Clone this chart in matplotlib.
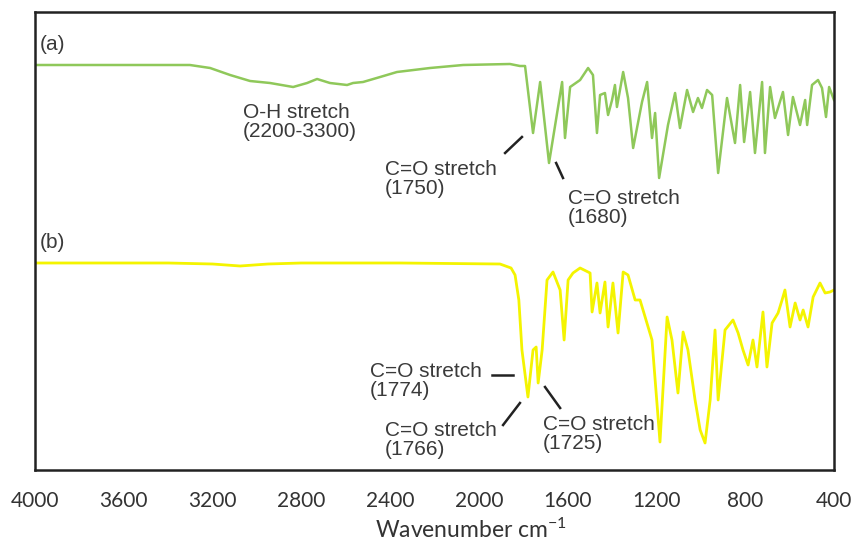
import numpy as np
import matplotlib.pyplot as plt

# spectrum (a) - wavenumber (cm-1) and signal (offset units)
wn_a = [4000, 3707, 3482, 3302, 3211, 3121, 3031, 2941, 2837, 2774, 2729, 2671,
        2594, 2567, 2522, 2445, 2369, 2220, 2071, 1860, 1815,
        1792, 1756, 1724, 1684, 1625, 1612, 1589, 1544, 1508, 1486, 1468, 1454,
        1432, 1418, 1400, 1387, 1378, 1350, 1328, 1305, 1265, 1242, 1220, 1206,
        1188, 1148, 1116, 1094, 1062, 1035, 1013, 995, 972, 949, 922, 882, 846,
        823, 805, 778, 756, 724, 711, 688, 666, 630, 607, 585, 553, 530, 521,
        499, 472, 454, 436, 422, 400]
sig_a = [405, 405, 405, 405, 402, 395, 389, 387, 383, 387, 391, 387,
         385, 387, 388, 393, 398, 402, 405, 406, 404,
         404, 337, 388, 307, 388, 332, 383, 390, 402, 395, 337, 375,
         377, 355, 370, 385, 363, 398, 372, 322, 368, 388, 332, 357,
         292, 345, 377, 342, 380, 358, 372, 362, 380, 375, 297, 372, 327,
         385, 328, 378, 317, 388, 317, 383, 352, 378, 335, 373, 345, 370, 345,
         385, 390, 382, 353, 383, 370]

# spectrum (b)
wn_b = [4000, 3400, 3200, 3076, 2950, 2800, 2355, 1905, 1855, 1837, 1820, 1806,
        1779, 1756, 1742, 1733, 1715, 1693, 1666, 1634, 1616, 1598, 1576, 1544,
        1499, 1490, 1468, 1454, 1432, 1418, 1396, 1373, 1350, 1328, 1296, 1274,
        1251, 1220, 1184, 1152, 1130, 1103, 1080, 1058, 1026, 1003, 981, 958,
        936, 922, 891, 855, 832, 810, 787, 765, 747, 720, 702, 679, 652, 634,
        621, 598, 575, 553, 539, 517, 494, 463, 440, 418, 400]
sig_b = [207, 207, 206, 204, 206, 207, 207, 206, 202, 195, 170, 120,
         73, 120, 123, 87, 120, 190, 198, 180, 130, 190, 197, 202,
         197, 158, 187, 157, 188, 143, 187, 137, 198, 195, 170, 170,
         153, 130, 28, 153, 130, 77, 138, 120, 70, 40, 27, 70,
         140, 70, 140, 150, 137, 120, 105, 130, 103, 158, 103, 147, 157, 170,
         180, 143, 167, 150, 160, 143, 173, 187, 177, 178, 180]

xticks = [4000, 3600, 3200, 2800, 2400, 2000, 1600, 1200, 800, 400]

plt.rcParams['font.family'] = ['Liberation Sans', 'DejaVu Sans']
plt.rcParams['mathtext.fontset'] = 'custom'
plt.rcParams['mathtext.rm'] = 'Lato'

fig = plt.figure(figsize=(8.54, 5.44), dpi=100)
ax = fig.add_axes([35 / 854, 1 - 470 / 544, 799 / 854, 458 / 544])

ax.plot(wn_a, sig_a, color='#8fc85a', lw=1.8, solid_joinstyle='round')
ax.plot(wn_b, sig_b, color='#f4f400', lw=2.0, solid_joinstyle='round')

ax.set_xlim(4000, 400)
ax.set_ylim(0, 458)
ax.set_yticks([])
ax.set_xticks(xticks)
ax.set_xticklabels([str(t) for t in xticks], fontfamily='Lato', fontsize=15,
                   color='#333333')
ax.tick_params(axis='x', length=0, pad=15)
for s in ax.spines.values():
    s.set_linewidth(1.8)
    s.set_color('#222222')

fig.text(471 / 854, 1 - 530 / 544, 'Wavenumber cm$\\mathregular{^{-1}}$',
         fontfamily='Lato', fontsize=16.5, color='#333333',
         ha='center', va='center')

tc = '#3a3a3a'
fs = 15
ls = 1.05
ax.text(3977, 425, '(a)', fontsize=fs, color=tc, va='center')
ax.text(3977, 228, '(b)', fontsize=fs, color=tc, va='center')
ax.text(3063, 348, 'O-H stretch\n(2200-3300)', fontsize=fs, color=tc,
        va='center', linespacing=ls)
ax.text(2423, 291, 'C=O stretch\n(1750)', fontsize=fs, color=tc,
        va='center', linespacing=ls)
ax.text(1598, 262, 'C=O stretch\n(1680)', fontsize=fs, color=tc,
        va='center', linespacing=ls)
ax.text(2490, 89, 'C=O stretch\n(1774)', fontsize=fs, color=tc,
        va='center', linespacing=ls)
ax.text(2423, 30, 'C=O stretch\n(1766)', fontsize=fs, color=tc,
        va='center', linespacing=ls)
ax.text(1711, 36, 'C=O stretch\n(1725)', fontsize=fs, color=tc,
        va='center', linespacing=ls)

# pointer lines
ax.plot([1882, 1806], [317, 333], color='#222222', lw=1.8)
ax.plot([1652, 1621], [307, 292], color='#222222', lw=1.8)
ax.plot([1941, 1846], [95, 95], color='#222222', lw=1.8)
ax.plot([1891, 1815], [45, 67], color='#222222', lw=1.8)
ax.plot([1702, 1634], [83, 62], color='#222222', lw=1.8)

fig.savefig('out.png', dpi=100)
